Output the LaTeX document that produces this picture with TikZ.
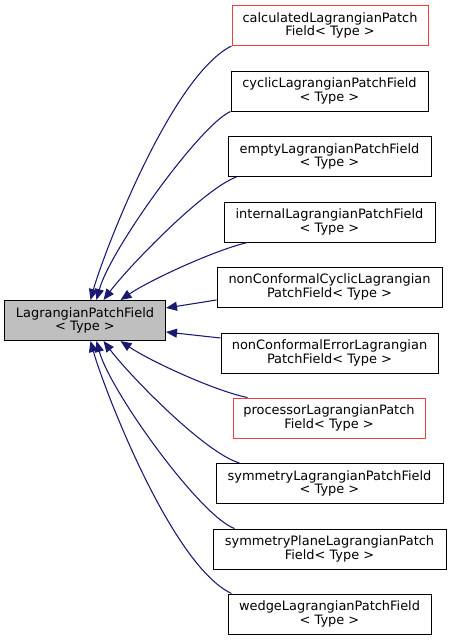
\documentclass[tikz,border=0pt]{standalone}
\usepackage{fontspec}
\setmainfont{DejaVu Sans}
\usetikzlibrary{arrows.meta,calc}
\definecolor{edgeblue}{HTML}{191970}
\definecolor{basegray}{HTML}{BFBFBF}
\definecolor{redline}{HTML}{F03C3C}
\tikzset{
  cls/.style={draw=black, line width=0.75pt, rectangle, align=center, inner sep=0pt,
    minimum height=30pt, font=\fontsize{9.7}{10}\selectfont, text=black},
  redcls/.style={cls, draw=redline},
  basecls/.style={cls, fill=basegray},
  edge/.style={draw=edgeblue, line width=0.8pt, -{Triangle[length=8.25pt,width=6.75pt]}, fill=none}
}
\begin{document}
\begin{tikzpicture}[x=0.75pt,y=-0.75pt]
\useasboundingbox (0,0) rectangle (451,640);
\node[basecls, minimum width=120.75pt] (base) at (85,320.5) {LagrangianPatchField\\< Type >};
\node[redcls, minimum width=147pt] (calc) at (330,25.5) {calculatedLagrangianPatch\\Field< Type >};
\node[cls, minimum width=147.75pt] (cyclic) at (329.5,91) {cyclicLagrangianPatchField\\< Type >};
\node[cls, minimum width=152.25pt] (empty) at (329.5,156.5) {emptyLagrangianPatchField\\< Type >};
\node[cls, minimum width=158.25pt] (internal) at (329.5,222) {internalLagrangianPatchField\\< Type >};
\node[cls, minimum width=168.75pt] (ncc) at (329.5,287) {nonConformalCyclicLagrangian\\PatchField< Type >};
\node[cls, minimum width=162.75pt] (nce) at (329.5,353) {nonConformalErrorLagrangian\\PatchField< Type >};
\node[redcls, minimum width=144pt] (proc) at (329,418) {processorLagrangianPatch\\Field< Type >};
\node[cls, minimum width=170.25pt] (sym) at (329.5,483.5) {symmetryLagrangianPatchField\\< Type >};
\node[cls, minimum width=174.75pt] (symp) at (329.5,549) {symmetryPlaneLagrangianPatch\\Field< Type >};
\node[cls, minimum width=152.25pt] (wedge) at (329.5,614) {wedgeLagrangianPatchField\\< Type >};

\draw[edge] (calc.south west) .. controls (171,76) and (103,255) .. ($(base.north west)+(86.5,0)$);
\draw[edge] (cyclic.south west) .. controls (200,125) and (110,250) .. ($(base.north west)+(92.5,0)$);
\draw[edge] ($(empty.south west)+(9,0)$) .. controls (205,188) and (130,265) .. ($(base.north west)+(99.5,0)$);
\draw[edge] ($(internal.south west)+(24,0)$) .. controls (215,250) and (150,280) .. ($(base.north west)+(116.5,0)$);
\draw[edge] ($(ncc.west)+(0,13)$) -- ($(base.east)+(0,-12.5)$);
\draw[edge] ($(nce.west)+(0,-15)$) -- ($(base.east)+(0,11.5)$);
\draw[edge] ($(proc.north west)+(15,0)$) .. controls (215,391) and (150,361) .. ($(base.south west)+(116.5,0)$);
\draw[edge] ($(sym.north west)+(24,0)$) .. controls (205,453) and (130,376) .. ($(base.south west)+(99.5,0)$);
\draw[edge] ($(symp.north west)+(22,0)$) .. controls (200,516) and (110,391) .. ($(base.south west)+(92.5,0)$);
\draw[edge] ($(wedge.north west)+(4,0)$) .. controls (171,565) and (103,386) .. ($(base.south west)+(86.5,0)$);
\end{tikzpicture}
\end{document}
